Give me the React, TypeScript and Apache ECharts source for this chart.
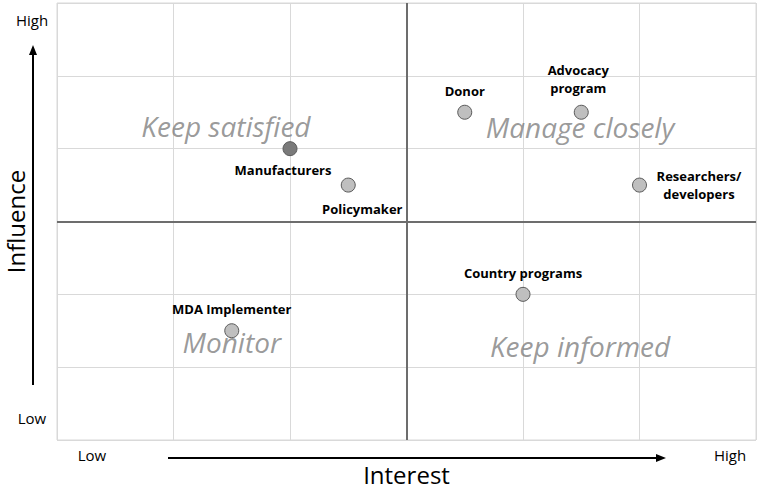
import React, { useEffect, useRef } from "react";
import * as echarts from "echarts";

const stakeholders = [
  "Manufacturers",
  "Policymaker",
  "Donor",
  "Advocacy\nprogram",
  "Researchers/\ndevelopers",
  "Country programs",
  "MDA Implementer",
];
const interest = [2, 2.5, 3.5, 4.5, 5, 4, 1.5];
const influence = [4, 3.5, 4.5, 4.5, 3.5, 2, 1.5];

const quadrantNames = ["Keep satisfied", "Manage closely", "Monitor", "Keep informed"];
const quadrantX = [1.45, 4.49, 1.5, 4.49];
const quadrantY = [4.31, 4.3, 1.35, 1.29];

const labelStyles: Record<string, any> = {
  Manufacturers: { position: "bottom", offset: [-7, 0] },
  Policymaker: { position: "bottom", offset: [14, 2] },
  Donor: { position: "top" },
  "Advocacy\nprogram": { position: "top", offset: [-3, -3] },
  "Researchers/\ndevelopers": { position: [67, 7], align: "center", verticalAlign: "middle" },
  "Country programs": { position: "top" },
  "MDA Implementer": { position: "top" },
};

const FONT = "'Open Sans', sans-serif";

export default function App() {
  const ref = useRef<HTMLDivElement>(null);
  useEffect(() => {
    if (!ref.current) return;
    const chart = echarts.init(ref.current, undefined, { renderer: "svg" });
    const pts = stakeholders.map((n, i) => ({
      value: [interest[i], influence[i]],
      name: n,
      itemStyle: n === "Manufacturers" ? { color: "#7a7a7a" } : undefined,
      label: labelStyles[n],
    }));
    const quads = quadrantNames.map((n, i) => ({ value: [quadrantX[i], quadrantY[i]], name: n }));
    chart.setOption({
      animation: false,
      textStyle: { fontFamily: FONT },
      grid: {
        left: 57,
        right: 4,
        top: 3,
        bottom: 50,
        show: true,
        borderColor: "#d9d9d9",
        borderWidth: 1,
        containLabel: false,
        outerBoundsMode: "none",
      },
      xAxis: {
        type: "value",
        min: 0,
        max: 6,
        interval: 1,
        axisLabel: { show: false },
        axisTick: { show: false },
        axisLine: { show: false },
        splitLine: { show: true, lineStyle: { color: "#d9d9d9", width: 1 } },
        name: "Interest",
        nameLocation: "middle",
        nameGap: 21,
        nameTextStyle: { fontSize: 24, lineHeight: 26, color: "#000", fontFamily: FONT },
      },
      yAxis: {
        type: "value",
        min: 0,
        max: 6,
        interval: 1,
        axisLabel: { show: false },
        axisTick: { show: false },
        axisLine: { show: false },
        splitLine: { show: true, lineStyle: { color: "#d9d9d9", width: 1 } },
        name: "Influence",
        nameLocation: "middle",
        nameGap: 29,
        nameTextStyle: { fontSize: 24, lineHeight: 26, color: "#000", fontFamily: FONT },
      },
      series: [
        {
          type: "scatter",
          name: "Stakeholders",
          symbolSize: 14,
          itemStyle: { color: "#bfbfbf", borderColor: "#595959", borderWidth: 1, opacity: 1 },
          label: {
            show: true,
            formatter: "{b}",
            fontSize: 13,
            fontWeight: "bold",
            color: "#000",
            lineHeight: 18,
            align: "center",
            fontFamily: FONT,
          },
          data: pts,
          markLine: {
            silent: true,
            symbol: "none",
            label: { show: false },
            lineStyle: { color: "#6d6d6d", width: 2, type: "solid" },
            data: [{ xAxis: 3 }, { yAxis: 3 }],
          },
          z: 3,
        },
        {
          type: "scatter",
          name: "Quadrants",
          symbolSize: 0,
          silent: true,
          label: {
            show: true,
            position: "inside",
            formatter: "{b}",
            fontSize: 28,
            fontStyle: "italic",
            color: "#7f7f7f",
            fontFamily: FONT,
          },
          data: quads,
          z: 4,
        },
      ],
      graphic: [
        { type: "line", shape: { x1: 33, y1: 385, x2: 33, y2: 52 }, style: { stroke: "#000", lineWidth: 2 } },
        { type: "polygon", shape: { points: [[33, 45], [29, 55], [37, 55]] }, style: { fill: "#000" } },
        { type: "line", shape: { x1: 168, y1: 458, x2: 658, y2: 458 }, style: { stroke: "#000", lineWidth: 2 } },
        { type: "polygon", shape: { points: [[666, 458], [656, 454], [656, 462]] }, style: { fill: "#000" } },
        { type: "text", x: 32, y: 20, style: { text: "High", fontSize: 15, fill: "#000", align: "center", verticalAlign: "middle", fontFamily: FONT } },
        { type: "text", x: 32, y: 418, style: { text: "Low", fontSize: 15, fill: "#000", align: "center", verticalAlign: "middle", fontFamily: FONT } },
        { type: "text", x: 92, y: 455, style: { text: "Low", fontSize: 15, fill: "#000", align: "center", verticalAlign: "middle", fontFamily: FONT } },
        { type: "text", x: 730, y: 455, style: { text: "High", fontSize: 15, fill: "#000", align: "center", verticalAlign: "middle", fontFamily: FONT } },
      ],
    });
    return () => chart.dispose();
  }, []);
  return (
    <div
      ref={ref}
      style={{ position: "absolute", left: 0, top: 0, width: 760, height: 490, background: "#fff" }}
    />
  );
}
